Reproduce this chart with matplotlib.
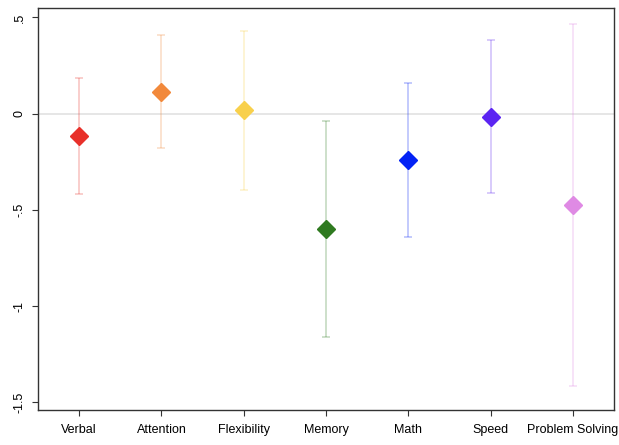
import matplotlib
matplotlib.use("Agg")
import matplotlib.pyplot as plt
from matplotlib.colors import to_rgba
from matplotlib import font_manager

names = {f.name for f in font_manager.fontManager.ttflist}
fam = ['Liberation Sans Narrow'] if 'Liberation Sans Narrow' in names else ['Liberation Sans']
plt.rcParams['font.family'] = fam + ['DejaVu Sans']
fs = 10.5 if fam[0] == 'Liberation Sans Narrow' else 9

categories = ["Verbal", "Attention", "Flexibility", "Memory", "Math", "Speed", "Problem Solving"]
estimates = [-0.116, 0.114, 0.018, -0.601, -0.242, -0.015, -0.473]
ci_low = [-0.417, -0.178, -0.395, -1.162, -0.642, -0.412, -1.414]
ci_high = [0.187, 0.410, 0.428, -0.038, 0.160, 0.385, 0.468]
colors = ["#E8302A", "#F2893B", "#F8D04C", "#2F7A20", "#0322F5", "#5B24F2", "#DF8AE4"]
ytick_vals = [0.5, 0, -0.5, -1, -1.5]
ytick_labels = [".5", "0", "-.5", "-1", "-1.5"]

fig = plt.figure(figsize=(6.19, 4.45), dpi=100)
ax = fig.add_axes([38/619, 1 - 410/445, (614-38)/619, (410-8)/445])

ax.axhline(0, color="#e2e2e2", lw=1.2, zorder=1)
for i, (cat, est, lo, hi, c) in enumerate(zip(categories, estimates, ci_low, ci_high, colors)):
    x = i + 1
    ax.errorbar([x], [est], yerr=[[est - lo], [hi - est]], fmt="none",
                ecolor=to_rgba(c, 0.28), elinewidth=1.2, capsize=3, capthick=1.2, zorder=2)
    ax.plot([x], [est], marker="D", ms=9.5, color=c, mec=c, ls="none", zorder=3)

ax.set_xlim(0.5, 7.5)
ax.set_ylim(-1.54, 0.549)
ax.set_xticks(range(1, len(categories) + 1))
ax.set_xticklabels(categories, fontsize=fs)
ax.set_yticks(ytick_vals)
ax.set_yticklabels(ytick_labels, fontsize=fs, rotation=90, va="center")
for s in ax.spines.values():
    s.set_color("#333333")
    s.set_linewidth(1.0)
ax.tick_params(axis="x", length=4, width=0.8, color="#333333", pad=6)
ax.tick_params(axis="y", length=4, width=0.8, color="#333333", pad=5)
fig.savefig("out.png", dpi=100)
